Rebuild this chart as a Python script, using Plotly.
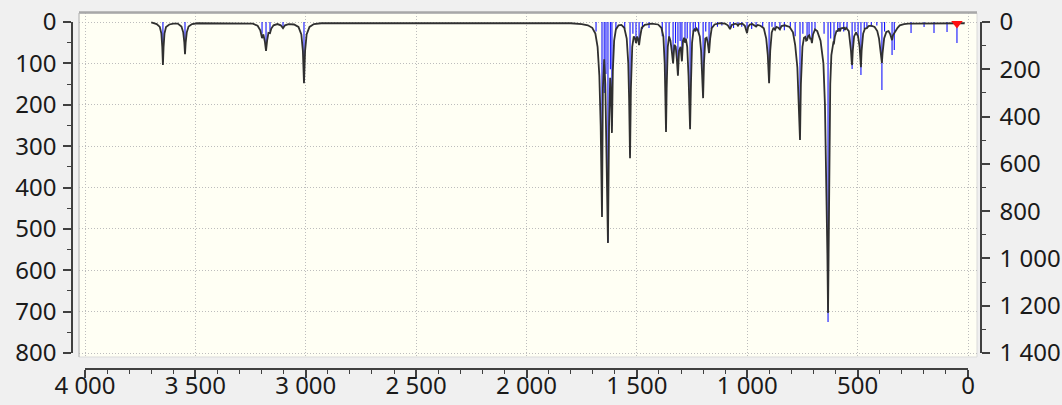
import plotly.graph_objects as go

W, H = 1062, 405

# Broadened IR spectrum (left axis, 0-800): wavenumber / value pairs
spec_wn = [
    3700, 3690, 3675, 3661, 3654, 3650, 3647, 3644, 3640, 3633, 3618, 3600,
    3580, 3563, 3555, 3550, 3547, 3544, 3539, 3531, 3515, 3490,
    3300, 3240, 3218, 3206, 3198, 3192, 3185, 3180, 3175, 3169, 3162, 3156, 3146, 3128,
    3113, 3103, 3094, 3078,
    3053, 3033, 3020, 3013, 3008, 3003, 2996, 2983, 2963, 2930,
    2500, 1800, 1750, 1722, 1702, 1688, 1678, 1670, 1664, 1658, 1654, 1648, 1643, 1637,
    1631, 1626, 1621, 1617, 1613, 1609, 1603, 1595, 1583, 1570, 1557, 1546, 1539, 1535,
    1531, 1527, 1521, 1514, 1508, 1504, 1499, 1495, 1490, 1485, 1478, 1464, 1434,
    1404, 1389, 1380, 1374, 1371, 1368, 1365, 1360, 1354, 1348, 1342, 1336, 1330, 1324,
    1319, 1314, 1309, 1302, 1296, 1291, 1286, 1282, 1278, 1272, 1266, 1262, 1259, 1255,
    1250, 1244, 1239, 1235, 1229, 1224, 1220, 1215, 1209, 1204, 1200, 1196, 1190, 1184,
    1179, 1173, 1168, 1161, 1148, 1123,
    1100, 1088, 1078, 1070, 1054, 1046, 1042, 1037, 1022, 1011, 1005, 1001, 996, 988,
    978, 967, 960, 953, 940, 925, 914, 907, 901, 896, 889, 881, 874, 868, 859, 852, 845, 830,
    808, 793, 783, 773, 767, 761, 757, 750, 743, 737, 733, 729, 724, 719, 715, 711, 707,
    702, 693, 683,
    668, 655, 648, 641, 637, 634, 631, 628, 624, 619, 614, 610, 607, 603, 596, 590, 585,
    580, 575, 561, 557, 552, 540, 534, 530, 527, 525, 522, 516, 507, 498, 491, 488, 485,
    482, 475, 467, 458, 451, 438, 423, 411, 403, 397, 393, 390, 387, 380, 370, 360, 352,
    347, 344, 340, 334, 326, 319, 309, 290, 270, 15,
]
spec_val = [
    1, 3, 5, 12, 28, 60, 104, 60, 28, 12, 6, 4,
    4, 11, 25, 50, 78, 50, 25, 11, 5, 3,
    3, 4, 9, 20, 39, 30, 48, 70, 45, 26, 27, 16, 8, 5,
    8, 15, 8, 5,
    6, 12, 30, 70, 148, 70, 30, 12, 5, 3,
    3, 3, 5, 8, 14, 28, 60, 130, 250, 471, 160, 90, 150, 300,
    534, 250, 135, 170, 268, 120, 45, 18, 8, 7, 14, 40, 100, 190,
    329, 160, 60, 35, 40, 51, 35, 40, 56, 35, 14, 7, 4,
    6, 14, 35, 100, 180, 266, 160, 60, 35, 45, 70, 100, 55, 60,
    90, 130, 70, 60, 95, 45, 38, 50, 40, 60, 130, 200, 259, 150,
    50, 22, 18, 22, 16, 20, 28, 35, 70, 120, 184, 100, 40, 38,
    50, 75, 40, 15, 6, 3,
    4, 8, 17, 7, 4, 6, 9, 5, 4, 9, 18, 27, 12, 6,
    5, 8, 11, 7, 9, 15, 40, 80, 148, 70, 25, 14, 19, 12, 14, 18, 10, 8,
    12, 25, 55, 110, 200, 285, 150, 60, 38, 36, 45, 44, 34, 32, 40, 40, 51,
    30, 18, 22,
    45, 100, 200, 400, 560, 703, 520, 300, 150, 80, 55, 50, 51, 35, 22, 22, 15,
    22, 15, 14, 19, 14, 22, 45, 70, 95, 104, 70, 35, 25, 35, 60, 85, 109,
    70, 28, 16, 15, 10, 9, 12, 22, 40, 65, 85, 99, 75, 40, 24, 22, 30,
    40, 44, 32, 26, 20, 14, 8, 5, 4, 3,
]

# Computed vibrational bands (right axis, 0-1400)
band_wn = [
    3647, 3547, 3198, 3180, 3162, 3103, 3008,
    1685, 1658, 1648, 1640, 1631, 1620, 1613, 1595, 1555, 1531, 1518, 1504, 1490, 1475, 1445,
    1385, 1368, 1354, 1336, 1325, 1314, 1304, 1296, 1282, 1272, 1259, 1245, 1235, 1220,
    1200, 1188, 1173, 1163, 1135, 1115, 1078, 1062, 1042, 1025, 1001, 980, 960, 930,
    901, 888, 874, 852, 832, 805,
    783, 761, 748, 729, 720, 707, 693, 652, 634, 622, 607, 590, 580, 563, 548,
    525, 512, 498, 485, 470, 458, 438, 413, 390, 378, 344, 334,
    258, 199, 154, 95, 50,
]
band_int = [
    170, 130, 50, 110, 40, 25, 250,
    40, 760, 300, 220, 930, 200, 440, 30, 30, 560, 50, 80, 90, 30, 25,
    60, 450, 70, 160, 90, 220, 80, 160, 80, 70, 440, 40, 40, 50,
    310, 40, 120, 30, 20, 15, 30, 25, 15, 20, 45, 30, 20, 25,
    250, 20, 30, 30, 35, 20,
    60, 427, 50, 75, 60, 85, 30, 50, 1269, 70, 85, 40, 40, 40, 25,
    199, 40, 60, 224, 30, 25, 20, 15, 288, 40, 140, 118,
    47, 21, 47, 42, 89,
]

# Selected mode marker
marker_wn = [50]
marker_val = [3.6]

# Axis tick settings
x_dtick, x_minor = 500, 100
left_dtick, left_minor = 100, 50
right_dtick, right_minor = 200, 100


def px_x(p):
    return p / W


def px_y(p):
    return 1 - p / H


stick_x, stick_y = [], []
for w, v in zip(band_wn, band_int):
    stick_x += [w, w, None]
    stick_y += [0, v, None]

fig = go.Figure()

fig.add_trace(go.Scatter(
    x=stick_x, y=stick_y, mode="lines", xaxis="x", yaxis="y",
    line=dict(color="#1414FF", width=1.1), hoverinfo="skip",
))
fig.add_trace(go.Scatter(
    x=spec_wn, y=spec_val, mode="lines", xaxis="x", yaxis="y4",
    line=dict(color="#303030", width=1.8), hoverinfo="skip",
))
fig.add_trace(go.Scatter(
    x=marker_wn, y=marker_val, mode="markers", xaxis="x", yaxis="y4",
    marker=dict(symbol="triangle-down", size=10, color="#FF1010", line=dict(width=0)),
    hoverinfo="skip",
))
# anchors for the scale axes
fig.add_trace(go.Scatter(x=[], y=[], xaxis="x2", yaxis="y2", hoverinfo="skip"))
fig.add_trace(go.Scatter(x=[], y=[], xaxis="x2", yaxis="y3", hoverinfo="skip"))

# plot frame geometry (pixels)
PL, PR, PT, PB = 79, 977, 13, 357
X4000, X0 = 85, 968
Y0, Y800 = 22, 353
sx = (X0 - X4000) / 4000.0
sl = (Y800 - Y0) / 800.0
sr = (Y800 - Y0) / 1400.0

x_rng = [4000 + (X4000 - PL) / sx, -(PR - X0) / sx]
yl_rng = [800 + (PB - Y800) / sl, -(Y0 - PT) / sl]
yr_rng = [1400 + (PB - Y800) / sr, -(Y0 - PT) / sr]

grid = dict(showgrid=True, gridcolor="#BDBDBD", griddash="1px,2px", gridwidth=1,
            showticklabels=False, ticks="", zeroline=False, showline=False,
            automargin=False)
axis_col = "#404040"
scale = dict(showline=True, linecolor=axis_col, linewidth=1.5, ticks="outside",
             ticklen=8, tickwidth=1.5, tickcolor=axis_col, showgrid=False,
             zeroline=False, separatethousands=True, anchor="free",
             automargin=False)

fig.update_layout(
    template="none",
    width=W, height=H, margin=dict(l=0, r=0, t=0, b=0, pad=0),
    paper_bgcolor="#F0F0F0", plot_bgcolor="rgba(0,0,0,0)",
    showlegend=False, separators=". ",
    font=dict(family="Noto Sans", size=24, color="#1A1A1A"),
    xaxis=dict(domain=[px_x(PL), px_x(PR)], range=x_rng, tick0=0, dtick=x_dtick,
               anchor="y", **grid),
    yaxis=dict(domain=[px_y(PB), px_y(PT)], range=yr_rng, tick0=0,
               dtick=1400 / 8, anchor="x", **grid),
    yaxis4=dict(overlaying="y", range=yl_rng, visible=False, automargin=False),
    xaxis2=dict(domain=[px_x(X4000), px_x(X0)], range=[4000, 0], position=px_y(369),
                side="bottom", tick0=0, dtick=x_dtick, ticklabelstandoff=-13,
                minor=dict(ticks="outside", dtick=x_minor, ticklen=4, tickwidth=1,
                           tickcolor=axis_col),
                **scale),
    yaxis2=dict(domain=[px_y(Y800), px_y(Y0)], range=[800, 0], position=px_x(72),
                side="left", tick0=0, dtick=left_dtick, ticklabelstandoff=2,
                minor=dict(ticks="outside", dtick=left_minor, ticklen=4, tickwidth=1,
                           tickcolor=axis_col),
                **scale),
    yaxis3=dict(domain=[px_y(Y800), px_y(Y0)], range=[1400, 0], position=px_x(981),
                side="right", tick0=0, dtick=right_dtick, ticklabelstandoff=5,
                minor=dict(ticks="outside", dtick=right_minor, ticklen=4, tickwidth=1,
                           tickcolor=axis_col),
                **scale),
    shapes=[
        dict(type="rect", xref="paper", yref="paper", x0=px_x(PL), x1=px_x(PR),
             y0=px_y(PB), y1=px_y(PT), fillcolor="#FFFFF4",
             line=dict(color="#DADADA", width=1), layer="below"),
        dict(type="line", xref="paper", yref="paper", x0=px_x(PL), x1=px_x(PR),
             y0=px_y(12.5), y1=px_y(12.5), line=dict(color="#A8A8A8", width=2.5)),
        dict(type="line", xref="paper", yref="paper", x0=px_x(PL), x1=px_x(PL),
             y0=px_y(PB), y1=px_y(PT), line=dict(color="#B8B8B8", width=1)),
    ],
)

fig.write_html("out.html")
